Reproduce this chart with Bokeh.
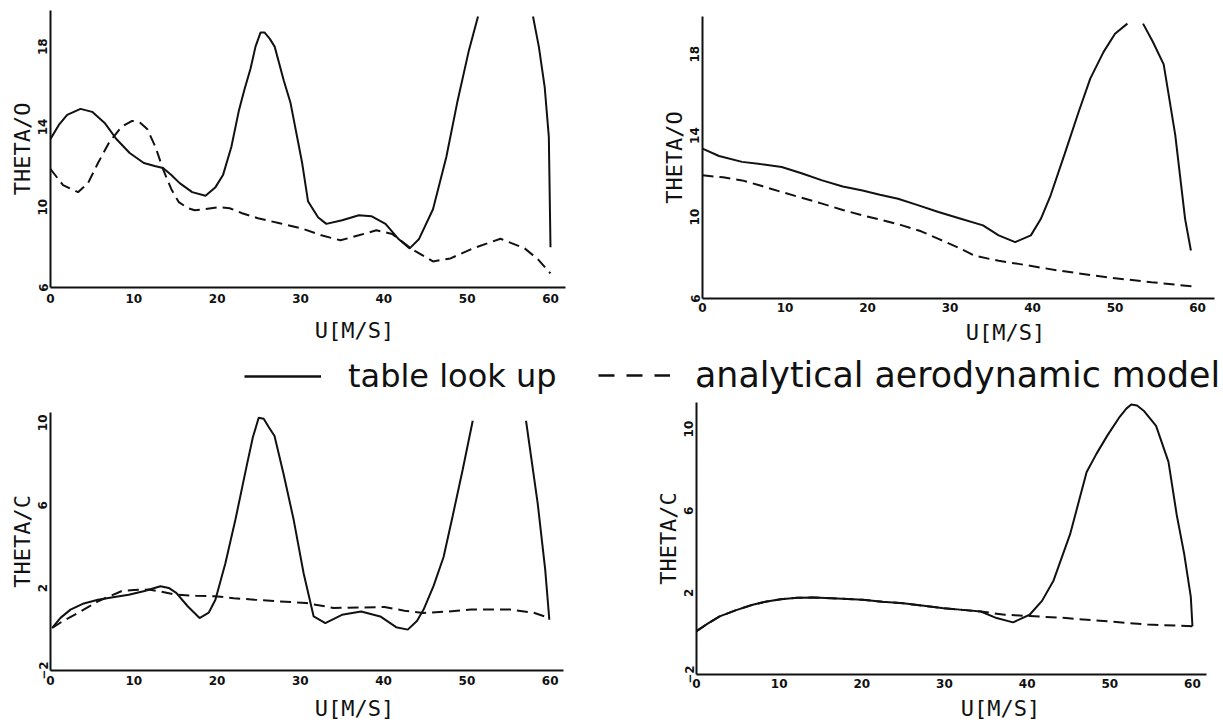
from bokeh.plotting import figure
from bokeh.layouts import column, row
from bokeh.models import FixedTicker, Legend, LegendItem, Range1d, Spacer
from bokeh.core.properties import value
from bokeh.embed import file_html
from bokeh.resources import INLINE

nan = float("nan")

# ---------------- data ----------------
x_ticks = [0, 10, 20, 30, 40, 50, 60]
y_ticks_top = [6, 10, 14, 18]
y_ticks_bottom = [-2, 2, 6, 10]

# top-left: THETA/O
tl_solid_u = [0, 1, 2, 3.6, 5, 6.5, 7.9, 9.5, 11.2, 12.5, 13.5, 14.5, 15.5, 17.0, 18.6, 19.8, 20.7,
              21.7, 22.6, 23.3, 24.0, 24.6, 25.2, 25.7, 26.3, 26.9, 28.0, 28.8, 30.2, 30.9, 32.1,
              33.1, 35.0, 37.0, 38.5, 40.2, 41.8, 43.1, 44.2, 45.9, 47.5, 48.8, 50.2, 51.3, nan,
              57.9, 58.6, 59.3, 59.8, 60.0]
tl_solid_theta = [13.4, 14.1, 14.6, 14.9, 14.75, 14.2, 13.4, 12.7, 12.2, 12.05, 11.95, 11.6, 11.2,
                  10.75, 10.57, 11.0, 11.6, 13.0, 14.8, 15.9, 16.9, 18.0, 18.7, 18.7, 18.4, 18.0,
                  16.3, 15.2, 12.2, 10.3, 9.5, 9.17, 9.35, 9.6, 9.55, 9.17, 8.4, 7.95, 8.4, 9.9,
                  12.5, 15.2, 17.8, 19.5, nan, 19.5, 18.0, 16.0, 13.5, 8.0]
tl_dash_u = [0, 1.5, 3.3, 4.5, 5.7, 7.0, 8.5, 9.8, 10.8, 11.6, 12.6, 13.5, 14.5, 15.4, 16.5, 17.3,
             18.5, 20.1, 21.5, 23.0, 24.9, 27.5, 30.1, 32.5, 34.8, 37.0, 39.1, 41.0, 43.4, 45.9,
             48.0, 50.7, 54.0, 56.9, 58.5, 60.0]
tl_dash_theta = [11.9, 11.1, 10.75, 11.2, 12.2, 13.2, 14.0, 14.3, 14.2, 13.9, 13.0, 11.9, 10.9,
                 10.25, 9.95, 9.85, 9.9, 10.0, 9.95, 9.7, 9.45, 9.2, 8.95, 8.6, 8.35, 8.6, 8.85,
                 8.67, 7.9, 7.3, 7.45, 7.95, 8.43, 7.95, 7.4, 6.7]

# top-right: THETA/O
tr_solid_u = [0, 2, 4.8, 7, 9.6, 12, 14.5, 17, 19.4, 21.5, 23.7, 26, 28.6, 31, 34.0, 35.9, 37.9,
              39.8, 41.0, 42.2, 43.9, 45.6, 47.0, 48.6, 50.0, 51.5, nan, 53.4, 54.6, 55.9, 57.3,
              58.5, 59.2]
tr_solid_theta = [13.36, 13.0, 12.71, 12.6, 12.46, 12.15, 11.8, 11.5, 11.3, 11.1, 10.9, 10.6,
                  10.25, 9.95, 9.59, 9.1, 8.77, 9.1, 9.9, 11.07, 13.1, 15.17, 16.8, 18.1, 19.0,
                  19.5, nan, 19.5, 18.6, 17.5, 14.04, 9.9, 8.36]
tr_dash_u = [0, 2.5, 4.8, 7, 9.6, 12, 14.5, 17, 19.4, 21.8, 24.2, 26.5, 28.6, 31.0, 33.0, 35.9,
             38.3, 43.2, 49.1, 54.4, 59.8]
tr_dash_theta = [12.05, 11.95, 11.8, 11.55, 11.23, 10.95, 10.66, 10.35, 10.08, 9.85, 9.59, 9.3,
                 8.93, 8.5, 8.1, 7.85, 7.7, 7.37, 7.04, 6.8, 6.58]

# bottom-left: THETA/C
bl_solid_u = [0.2, 1.2, 2.4, 4, 5.7, 7.5, 9.4, 11.3, 13.2, 14.2, 15.1, 16.5, 17.9, 19.0, 19.8,
              21.0, 22.2, 23.6, 24.3, 25.0, 25.6, 26.2, 26.9, 28.0, 29.2, 30.4, 31.6, 33.0, 35.0,
              37.3, 39.6, 41.5, 42.9, 44.0, 44.8, 46.0, 47.2, 48.3, 49.5, 50.7, nan, 57.1, 58.5,
              59.4, 59.9]
bl_solid_theta = [0.06, 0.55, 0.95, 1.25, 1.43, 1.55, 1.67, 1.85, 2.08, 2.0, 1.76, 1.1, 0.54,
                  0.8, 1.43, 3.2, 5.3, 8.0, 9.3, 10.25, 10.2, 9.8, 9.36, 7.5, 5.3, 2.7, 0.62,
                  0.3, 0.7, 0.86, 0.62, 0.1, -0.02, 0.4, 0.95, 2.1, 3.5, 5.5, 7.74, 10.1, nan,
                  10.1, 6.1, 2.9, 0.46]
bl_dash_u = [0.2, 1.5, 3.3, 5.7, 8.5, 10, 11.8, 13.5, 15.1, 17.5, 19.8, 22, 24.5, 27.5, 30.7,
             34.0, 37, 40.1, 42.5, 44.8, 47.5, 50.5, 55.2, 58, 59.9]
bl_dash_theta = [0.06, 0.4, 0.79, 1.35, 1.84, 1.9, 1.92, 1.8, 1.67, 1.62, 1.6, 1.5, 1.43, 1.35,
                 1.27, 1.03, 1.05, 1.08, 0.9, 0.79, 0.85, 0.95, 0.95, 0.8, 0.54]

# bottom-right: THETA/C
br_solid_u = [0, 1.4, 2.8, 4.8, 6.8, 8.5, 10.2, 12.2, 14.2, 17, 20.1, 22.5, 25.0, 27.5, 29.9,
              32.2, 34.4, 36.3, 38.3, 40.3, 41.8, 43.2, 45.2, 47.2, 48.4, 49.7, 51.2, 52.0, 52.6,
              53.3, 54.1, 55.6, 57.1, 58.1, 59.0, 59.8, 60.0]
br_solid_theta = [0.12, 0.5, 0.84, 1.15, 1.41, 1.57, 1.68, 1.75, 1.77, 1.72, 1.65, 1.56, 1.48,
                  1.36, 1.24, 1.16, 1.08, 0.76, 0.55, 0.92, 1.6, 2.6, 4.86, 7.9, 8.8, 9.68, 10.6,
                  11.0, 11.2, 11.15, 10.9, 10.16, 8.4, 5.8, 3.9, 1.8, 0.36]
br_dash_u = [0, 1.4, 2.8, 4.8, 6.8, 8.5, 10.2, 12.2, 14.2, 17, 20.1, 22.5, 25.0, 27.5, 29.9,
             32.2, 34.4, 37.3, 40.3, 44.7, 49.7, 54.6, 60.0]
br_dash_theta = [0.12, 0.5, 0.84, 1.15, 1.41, 1.57, 1.68, 1.75, 1.77, 1.72, 1.65, 1.56, 1.48,
                 1.36, 1.24, 1.16, 1.08, 0.92, 0.86, 0.76, 0.6, 0.44, 0.36]

legend_labels = ["table look up", "analytical aerodynamic model"]
x_title = "U[M/S]"

# ---------------- styling ----------------
INK = "#111111"
AX_FONT = "DejaVu Sans Mono"
TICK_FONT = "DejaVu Sans"
DASH = "11 6"
W = 1223


def panel(width, height, borders, xr, yr, yticks, ylabel, solid, dashed, xlab_standoff=5):
    left, right, top, bottom = borders
    p = figure(width=width, height=height, output_backend="svg", toolbar_location=None,
               x_range=Range1d(*xr), y_range=Range1d(*yr),
               min_border_left=left, min_border_right=right,
               min_border_top=top, min_border_bottom=bottom)
    p.xgrid.visible = False
    p.ygrid.visible = False
    p.outline_line_color = None
    p.background_fill_color = "white"
    p.border_fill_color = "white"
    for ax in (p.xaxis[0], p.yaxis[0]):
        ax.axis_line_width = 2
        ax.axis_line_color = INK
        ax.major_tick_in = 0
        ax.major_tick_out = 0
        ax.minor_tick_line_color = None
        ax.major_label_text_font = TICK_FONT
        ax.major_label_text_font_style = "bold"
        ax.major_label_text_font_size = "12px"
        ax.major_label_text_color = INK
    p.xaxis.ticker = FixedTicker(ticks=x_ticks)
    p.yaxis.ticker = FixedTicker(ticks=yticks)
    p.xaxis.major_label_standoff = xlab_standoff
    p.yaxis.major_label_standoff = 3
    p.yaxis.major_label_orientation = "parallel"
    p.yaxis.axis_label = ylabel
    p.yaxis.axis_label_text_font = AX_FONT
    p.yaxis.axis_label_text_font_size = "22px"
    p.yaxis.axis_label_text_font_style = "normal"
    p.yaxis.axis_label_text_color = INK
    p.yaxis.axis_label_standoff = 1

    p.line(dashed[0], dashed[1], line_color=INK, line_width=2, line_dash=DASH)
    p.line(solid[0], solid[1], line_color=INK, line_width=2)
    return p


def strip(height):
    s = figure(width=W, height=height, output_backend="svg", toolbar_location=None,
               x_range=Range1d(0, W), y_range=Range1d(height, 0),
               x_axis_location=None, y_axis_location=None,
               min_border_left=0, min_border_right=0, min_border_top=0, min_border_bottom=0)
    s.xgrid.visible = False
    s.ygrid.visible = False
    s.outline_line_color = None
    return s


# ---- panels ----
tl = panel(600, 318, (50, 35, 10, 31), (0, 61.8), (6, 19.8), y_ticks_top, "THETA/O",
           (tl_solid_u, tl_solid_theta), (tl_dash_u, tl_dash_theta), 6)
tr = panel(623, 312, (102, 9, 10, 20), (0, 62.06), (6, 19.85), y_ticks_top, "THETA/O",
           (tr_solid_u, tr_solid_theta), (tr_dash_u, tr_dash_theta), 4)
bl = panel(600, 288, (50, 37, 7, 23), (0, 61.6), (-2, 10.5), y_ticks_bottom, "THETA/C",
           (bl_solid_u, bl_solid_theta), (bl_dash_u, bl_dash_theta), 5)
br = panel(623, 298, (96, 17, 7, 19), (0, 61.7), (-2, 11.3), y_ticks_bottom, "THETA/C",
           (br_solid_u, br_solid_theta), (br_dash_u, br_dash_theta), 4)

# ---- middle strip: x-axis titles of the upper panels + shared legend ----
mid = strip(77)
mid.text(x=[354, 1005], y=[12, 14], text=[x_title, x_title], text_font=value(AX_FONT),
         text_font_size="22px", text_align="center", text_baseline="middle", text_color=INK)
r_solid = mid.line(x=[-50, -40], y=[-50, -50], line_color=INK, line_width=2.5)
r_dash = mid.line(x=[-50, -40], y=[-50, -50], line_color=INK, line_width=2.5, line_dash="16 12")
common = dict(orientation="horizontal", glyph_height=20, padding=0, margin=0,
              border_line_color=None, background_fill_alpha=0,
              label_text_font="DejaVu Sans", label_text_color=INK)
legend_a = Legend(items=[LegendItem(label=legend_labels[0], renderers=[r_solid])],
                  location=(244, 0), glyph_width=77, label_standoff=27,
                  label_text_font_size="32px", **common)
legend_b = Legend(items=[LegendItem(label=legend_labels[1], renderers=[r_dash])],
                  location=(598, 0), glyph_width=72, label_standoff=25,
                  label_text_font_size="34.8px", **common)
mid.add_layout(legend_a)
mid.add_layout(legend_b)

# ---- bottom strip: x-axis titles of the lower panels ----
bot = strip(30)
bot.text(x=[354, 1000], y=[15, 15], text=[x_title, x_title], text_font=value(AX_FONT),
         text_font_size="22px", text_align="center", text_baseline="middle", text_color=INK)

top_row = row(tl, column(Spacer(width=623, height=6), tr))
bottom_row = row(column(Spacer(width=600, height=10), bl), br)
layout = column(top_row, mid, bottom_row, bot)

open("out.html", "w").write(file_html(layout, INLINE))
